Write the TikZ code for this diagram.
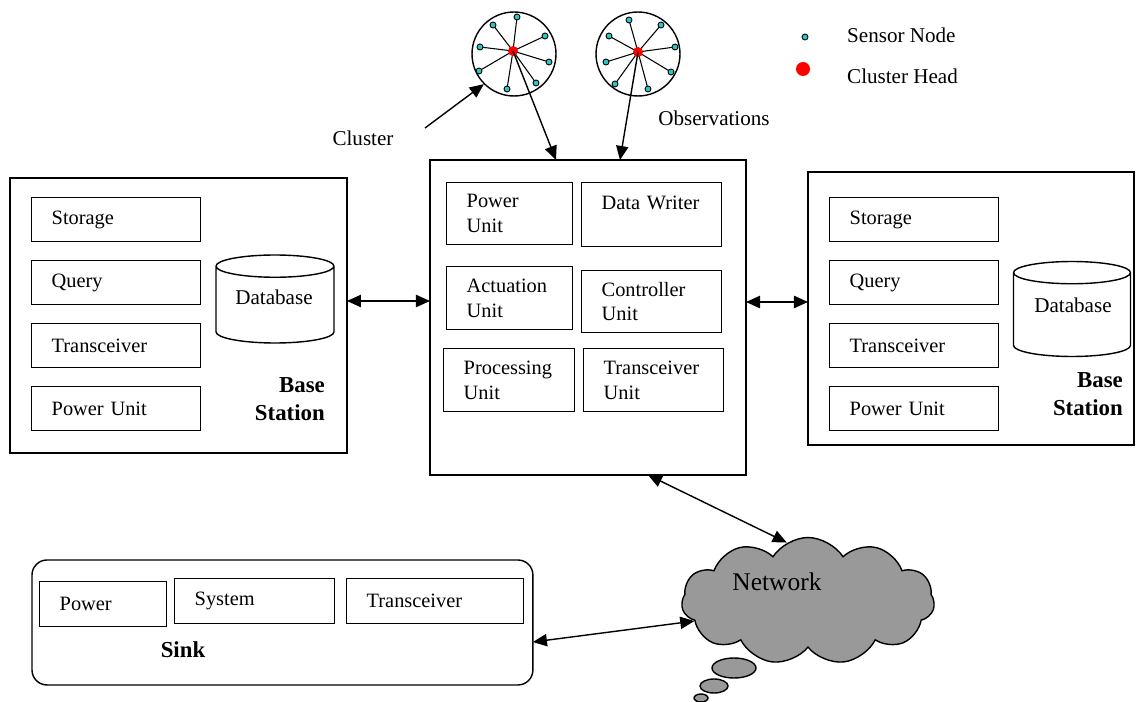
\documentclass[tikz,border=0pt]{standalone}
\usepackage{fontspec}
\setmainfont{Liberation Serif}
\usetikzlibrary{arrows.meta,shapes.geometric,shapes.symbols}
\definecolor{sensorcyan}{RGB}{40,200,200}
\definecolor{cloudgray}{RGB}{153,153,153}
\tikzset{
  txt/.style={font=\fontsize{12}{14}\selectfont},
  stationlabel/.style={font=\bfseries\fontsize{13}{16}\selectfont, align=right},
  unit/.style={draw, line width=0.8pt, anchor=north west, align=left, inner xsep=0.4cm, inner ysep=0pt, font=\fontsize{11.6}{14}\selectfont},
  outerbox/.style={draw, line width=0.8pt, anchor=north west, inner sep=0pt, outer sep=0pt},
  db/.style={draw, cylinder, shape border rotate=90, aspect=0.25, line width=0.8pt, anchor=shape center, txt},
  cluster/.style={draw, circle, line width=0.8pt, minimum size=1.68cm, inner sep=0pt},
  sensor/.style={draw, circle, fill=sensorcyan, line width=0.5pt, minimum size=0.12cm, inner sep=0pt},
  head/.style={circle, fill=red, minimum size=0.2cm, inner sep=0pt},
  duplex/.style={line width=0.8pt, {Triangle[length=8pt,width=7pt]}-{Triangle[length=8pt,width=7pt]}},
  feed/.style={line width=0.8pt, -{Triangle[length=8pt,width=7pt]}}
}
\begin{document}
\begin{tikzpicture}[x=0.02cm, y=-0.02cm]
	\useasboundingbox (0,0) rectangle (1136,702);
	% clusters of sensor nodes
	\node[cluster] (cl1) at (514,54) {};
	\node[cluster] (cl2) at (638,54) {};
	\coordinate (c1) at (513,51);
	\coordinate (c2) at (638,52);
	\foreach \x/\y in {517/17, 493/25, 545/36, 480/47, 549/62, 479/71, 536/83, 507/89}{
		\draw[line width=0.6pt] (c1) -- (\x,\y);
		\node[sensor] (sa-\x) at (\x,\y) {};
	}
	\foreach \x/\y in {629/20, 661/25, 609/36, 675/47, 606/62, 671/72, 615/84, 648/89}{
		\draw[line width=0.6pt] (c2) -- (\x,\y);
		\node[sensor] (sb-\x) at (\x,\y) {};
	}
	\node[head] (ch1) at (c1) {};
	\node[head] (ch2) at (c2) {};
	% legend
	\node[sensor] (keysensor) at (805,37) {};
	\node[txt, anchor=west] (keysensortxt) at (841,35) {Sensor Node};
	\node[head, minimum size=0.28cm] (keyhead) at (803,69) {};
	\node[txt, anchor=west] (keyheadtxt) at (841,76) {Cluster Head};
	\node[txt] (clusterlbl) at (363,138) {Cluster};
	\node[txt] (obslbl) at (714,118) {Observations};
	\coordinate (clusterfoot) at (425,128);
	% sensor node
	\node[outerbox, minimum width=6.32cm, minimum height=6.3cm] (mote) at (430,160) {};
	\node[unit, text width=1.72cm, minimum height=1.24cm] (pu) at (446,182) {Power\\Unit};
	\node[unit, text width=2.0cm, minimum height=1.28cm] (dw) at (581,182) {Data~Writer\\~};
	\node[unit, text width=1.72cm, minimum height=1.26cm] (au) at (446,266) {Actuation\\Unit};
	\node[unit, text width=2.0cm, minimum height=1.24cm] (cu) at (581,270) {Controller\\Unit};
	\node[unit, text width=1.82cm, minimum height=1.26cm] (prc) at (443,348) {Processing\\Unit};
	\node[unit, text width=2.0cm, minimum height=1.26cm] (tu) at (583,348) {Transceiver\\Unit};
	% base stations
	\node[outerbox, minimum width=6.74cm, minimum height=5.5cm] (lbs) at (10,178) {};
	\node[unit, text width=2.58cm, minimum height=0.88cm] (lst) at (31,197) {Storage};
	\node[unit, text width=2.58cm, minimum height=0.88cm] (lqu) at (31,260) {Query};
	\node[unit, text width=2.58cm, minimum height=0.88cm] (ltr) at (31,323) {Transceiver};
	\node[unit, text width=2.58cm, minimum height=0.88cm] (lpw) at (31,386) {Power Unit};
	\node[db, minimum width=2.36cm, minimum height=1.76cm] (ldb) at (275,299) {\phantom{Database}};
	\node[txt] (ldbtxt) at (274,297) {Database};
	\node[stationlabel, anchor=east] (lbslbl) at (331,399) {Base\\Station};
	\node[outerbox, minimum width=6.52cm, minimum height=5.46cm] (rbs) at (808,172) {};
	\node[unit, text width=2.58cm, minimum height=0.88cm] (rst) at (829,197) {Storage};
	\node[unit, text width=2.58cm, minimum height=0.88cm] (rqu) at (829,260) {Query};
	\node[unit, text width=2.58cm, minimum height=0.88cm] (rtr) at (829,323) {Transceiver};
	\node[unit, text width=2.58cm, minimum height=0.88cm] (rpw) at (829,386) {Power Unit};
	\node[db, minimum width=2.34cm, minimum height=1.9cm] (rdb) at (1072,309) {\phantom{Database}};
	\node[txt] (rdbtxt) at (1073,305) {Database};
	\node[stationlabel, anchor=east] (rbslbl) at (1129,394) {Base\\Station};
	% sink
	\node[outerbox, rounded corners=0.3cm, minimum width=10.02cm, minimum height=2.5cm] (sink) at (32,560) {};
	\node[unit, text width=1.74cm, minimum height=0.9cm] (spw) at (39,581) {Power};
	\node[unit, text width=2.4cm, minimum height=0.9cm] (ssy) at (174,578) {System};
	\node[unit, text width=2.74cm, minimum height=0.9cm] (str) at (346,578) {Transceiver};
	\node[stationlabel] (sinklbl) at (183,650) {Sink};
	% network cloud
	\node[draw, fill=cloudgray, line width=0.8pt, cloud, cloud puffs=11, cloud puff arc=115, cloud ignores aspect, minimum width=5.06cm, minimum height=2.54cm] (net) at (808,601) {};
	\node[font=\fontsize{14.5}{17}\selectfont] (netlbl) at (777,582) {Network};
	\draw[fill=cloudgray, line width=0.8pt] (734,668) ellipse [x radius=0.44cm, y radius=0.2cm];
	\draw[fill=cloudgray, line width=0.8pt] (714,686) ellipse [x radius=0.28cm, y radius=0.14cm];
	\draw[fill=cloudgray, line width=0.8pt] (701,698) ellipse [x radius=0.14cm, y radius=0.08cm];
	% connections
	\coordinate (lvl) at (0,301);
	\coordinate (rvl) at (0,302);
	\coordinate (skl) at (0,642);
	\draw[feed] (clusterfoot) -- (cl1.225);
	\draw[feed] (ch1.center) -- ([xshift=-0.64cm]mote.north);
	\draw[feed] (ch2.center) -- ([xshift=0.64cm]mote.north);
	\draw[duplex] (lbs.east |- lvl) -- (mote.west |- lvl);
	\draw[duplex] (mote.east |- rvl) -- (rbs.west |- rvl);
	\draw[duplex] ([xshift=1.2cm]mote.south) -- (net.110);
	\draw[duplex] (sink.east |- skl) -- (net.190);
\end{tikzpicture}
\end{document}
